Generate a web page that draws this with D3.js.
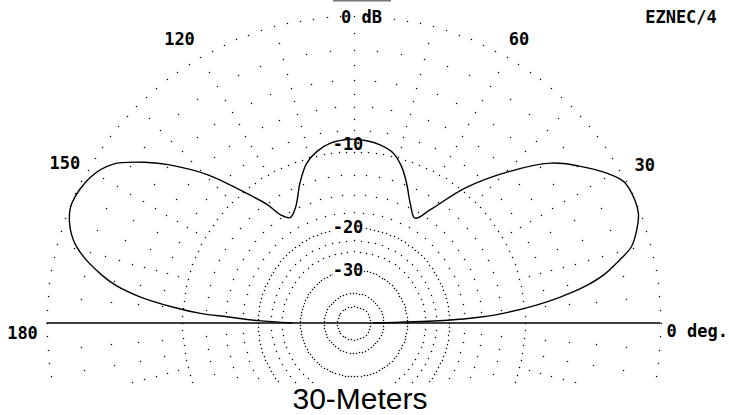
<!DOCTYPE html>
<html>
<head>
<meta charset="utf-8">
<script src="https://cdn.jsdelivr.net/npm/d3@7"></script>
<style>
  html, body { margin: 0; padding: 0; background: #fff; }
  svg { display: block; }
</style>
</head>
<body>
<svg width="729" height="415"></svg>
<script>
// elevation pattern, ARRL log scale
const elevDeg = [0, 1.5, 2.3, 3.7, 5.6, 7.1, 8.8, 10.9, 13.3, 15.3, 18.2, 21, 23.6, 27.5, 30.5, 35, 39, 44.5, 50.5,
  55.9, 59.6, 64.7, 69.2, 72.9, 76.8, 81.5, 85.9, 91, 97.5, 102, 106.3, 110.7, 116.5, 121, 124, 126, 130.5, 134.5,
  139.5, 142, 146.5, 151, 157, 160, 163.5, 166.2, 169.4, 171.1, 173, 175, 176.4, 177.2, 178.6, 180];
const gainDb = [-46.8, -22, -16.6, -12.3, -8.8, -6.7, -4.8, -3.2, -2.0, -1.1, -0.5, -0.1, 0, -0.1, -0.7, -1.95, -3.25, -6.1, -9.7,
  -13.9, -15.9, -14.4, -12.35, -10.8, -9.7, -9.15, -8.9, -8.8, -9.05, -9.6, -10.5, -12.2, -14.8, -15.7, -14.7, -12.75, -9.65, -6.7,
  -3.95, -2.8, -1.1, -0.35, -0.05, -0.26, -0.85, -1.7, -3.2, -4.25, -6.1, -9.1, -11.9, -15.2, -20.1, -27.7];

const ringDb = [0, -10, -20, -30, -40, -50];
const ringLabels = ['-10', '-20', '-30'];
const spokeDb = [-2, -4, -6, -8, -12.5, -15, -17.5, -22.5, -25];
const spokeDbFine = [-1, -3, -5, -7, -9];
const angleLabels = ['30', '60', '120', '150', '180'];
const labelAngle = [28.5, 59.8, 121.5, 151, 180];
const labelRadius = [331.5, 329, 333, 330, 331];

const svg = d3.select('svg');
const width = 729;
const height = 415;
const cx = 353.5;
const cy = 323;
const R = 307;
const clipY = 384;
const mono = '"DejaVu Sans Mono", "Liberation Mono", monospace';

// ARRL scale: 0.89 of radius per 2 dB
const r = db => R * Math.pow(0.89, -db / 2);
const rad = d => d * Math.PI / 180;
const px = (a, rr) => cx + rr * Math.cos(rad(a));
const py = (a, rr) => cy - rr * Math.sin(rad(a));

svg.append('rect').attr('width', width).attr('height', height).attr('fill', '#fff');

svg.append('defs').append('clipPath').attr('id', 'plotclip')
  .append('rect').attr('x', 0).attr('y', 0).attr('width', width).attr('height', clipY);

const grid = svg.append('g').attr('clip-path', 'url(#plotclip)');

function dot (x, y) {
  grid.append('rect')
    .attr('x', Math.round(x) - 0.15)
    .attr('y', Math.round(y) - 0.15)
    .attr('width', 1.3)
    .attr('height', 1.3)
    .attr('fill', '#000');
}

// rings
ringDb.forEach(db => {
  const rr = r(db);
  const step = Math.max(2.5, 3.2 / rr * 180 / Math.PI);
  const n = Math.round(360 / step);
  for (let i = 0; i < n; i++) {
    const a = i * 360 / n;
    dot(px(a, rr), py(a, rr));
  }
});

// spokes every 5 deg
d3.range(0, 360, 5).forEach(a => {
  if (a % 180 === 0) return;
  const lv = a % 15 === 0 ? spokeDb.concat(spokeDbFine) : spokeDb;
  lv.forEach(db => dot(px(a, r(db)), py(a, r(db))));
});

svg.append('rect')
  .attr('x', 333).attr('y', 0).attr('width', 58).attr('height', 1.5)
  .attr('fill', '#777');

function label (txt, x, y, anchor) {
  return svg.append('text')
    .attr('x', x).attr('y', y)
    .attr('dy', '0.36em')
    .attr('text-anchor', anchor || 'middle')
    .attr('font-family', mono)
    .attr('font-weight', 'bold')
    .attr('font-size', 17)
    .text(txt);
}

// dB labels on rings
const ringOffs = [8, 0, 0];
ringLabels.forEach((t, i) => {
  const y = cy - r(+t) - ringOffs[i];
  svg.append('rect')
    .attr('x', cx - 21).attr('y', y - 7)
    .attr('width', 31).attr('height', 14)
    .attr('fill', '#fff');
  label(t, cx - 5.5, y);
});

// horizon line
svg.append('line')
  .attr('x1', cx - R).attr('x2', cx + R)
  .attr('y1', cy).attr('y2', cy)
  .attr('stroke', '#000').attr('stroke-width', 1.5);

// pattern
const pts = elevDeg.map((a, i) => [rad(90 - a), r(gainDb[i])]);
const line = d3.lineRadial()
  .angle(d => d[0])
  .radius(d => d[1])
  .curve(d3.curveCatmullRom.alpha(0.5));

svg.append('path')
  .attr('transform', `translate(${cx},${cy})`)
  .attr('d', line(pts))
  .attr('fill', 'none')
  .attr('stroke', '#000')
  .attr('stroke-width', 1.4);

// angle labels
angleLabels.forEach((t, i) => {
  const a = labelAngle[i];
  label(t, px(a, labelRadius[i]), py(a, labelRadius[i]) + (a === 180 ? 10 : 0));
});
label('0 deg.', cx + R + 6, cy + 8, 'start');
label('0 dB', cx + 8, 17);
label('EZNEC/4', 681, 17);

svg.append('text')
  .attr('x', 360).attr('y', 409)
  .attr('text-anchor', 'middle')
  .attr('font-family', '"Liberation Sans", Arial, sans-serif')
  .attr('font-size', 30)
  .text('30-Meters');
</script>
</body>
</html>
